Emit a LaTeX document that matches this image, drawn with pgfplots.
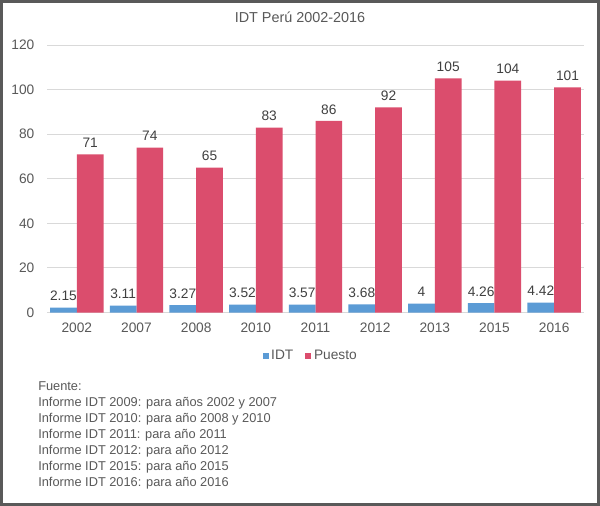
\documentclass[border=0pt]{standalone}
\usepackage{pgfplots}
\pgfplotsset{compat=1.18}
\usepackage{fontspec}
\setmainfont{Liberation Sans}
\definecolor{idt}{HTML}{5B9BD5}
\definecolor{pue}{HTML}{DB4D6D}
\definecolor{txt}{HTML}{595959}
\definecolor{lbl}{HTML}{404040}
\definecolor{grd}{HTML}{D9D9D9}
\pgfplotsset{/pgf/number format/assume math mode=true}
\begin{document}
\begin{tikzpicture}
\useasboundingbox (0,0) rectangle (450pt,-379.5pt);
\fill[white] (0,0) rectangle (450pt,-379.5pt);
\draw[color=txt, line width=2.25pt] (1.125pt,-1.125pt) rectangle (448.875pt,-378.375pt);
\node[font=\fontsize{10.8}{13}\selectfont, text=txt] at (225pt,-13pt) {IDT Perú 2002-2016};
\begin{axis}[
  at={(35.25pt,-234.4pt)}, anchor=south west,
  scale only axis, width=402.75pt, height=200.6pt,
  ymin=0, ymax=120, ytick={0,20,...,120},
  xmin=-0.5, xmax=8.5, xtick={0,...,8},
  xticklabels={2002,2007,2008,2010,2011,2012,2013,2015,2016},
  ybar=0pt, bar width=0.448,
  axis x line*=bottom, axis y line*=left,
  x axis line style={draw=grd, line width=0.75pt, -},
  y axis line style={draw=none},
  major tick length=0pt,
  ymajorgrids, grid style={draw=grd, line width=0.75pt},
  tick label style={font=\fontsize{10.3}{12}\selectfont, text=txt},
  yticklabel style={xshift=-6pt},
  xticklabel style={yshift=-4pt},
  nodes near coords,
  nodes near coords style={font=\fontsize{10.3}{12}\selectfont, text=lbl, yshift=1.5pt},
  legend style={at={(0.4916,-0.162)}, anchor=center, draw=none, fill=none,
    legend columns=2, font=\fontsize{10.3}{12}\selectfont, text=txt,
    /tikz/every even column/.append style={column sep=7pt}},
  legend image code/.code={\fill[#1] (0.5pt,-2.25pt) rectangle (5pt,2.25pt);},
]
\addplot[fill=idt, draw=none] coordinates {(0,2.15) (1,3.11) (2,3.27) (3,3.52) (4,3.57) (5,3.68) (6,4) (7,4.26) (8,4.42)};
\addplot[fill=pue, draw=none] coordinates {(0,71) (1,74) (2,65) (3,83) (4,86) (5,92) (6,105) (7,104) (8,101)};
\legend{IDT,Puesto}
\end{axis}
\begin{scope}[every node/.style={anchor=base west, inner sep=0pt, text=txt, font=\fontsize{9.6}{11}\selectfont}]
\node at (28.5pt,-292.5pt) {Fuente:};
\node at (28.5pt,-304.5pt) {Informe IDT 2009: para años 2002 y 2007};
\node at (28.5pt,-316.5pt) {Informe IDT 2010: para año 2008 y 2010};
\node at (28.5pt,-328.5pt) {Informe IDT 2011: para año 2011};
\node at (28.5pt,-340.5pt) {Informe IDT 2012: para año 2012};
\node at (28.5pt,-352.5pt) {Informe IDT 2015: para año 2015};
\node at (28.5pt,-364.5pt) {Informe IDT 2016: para año 2016};
\end{scope}
\end{tikzpicture}
\end{document}
